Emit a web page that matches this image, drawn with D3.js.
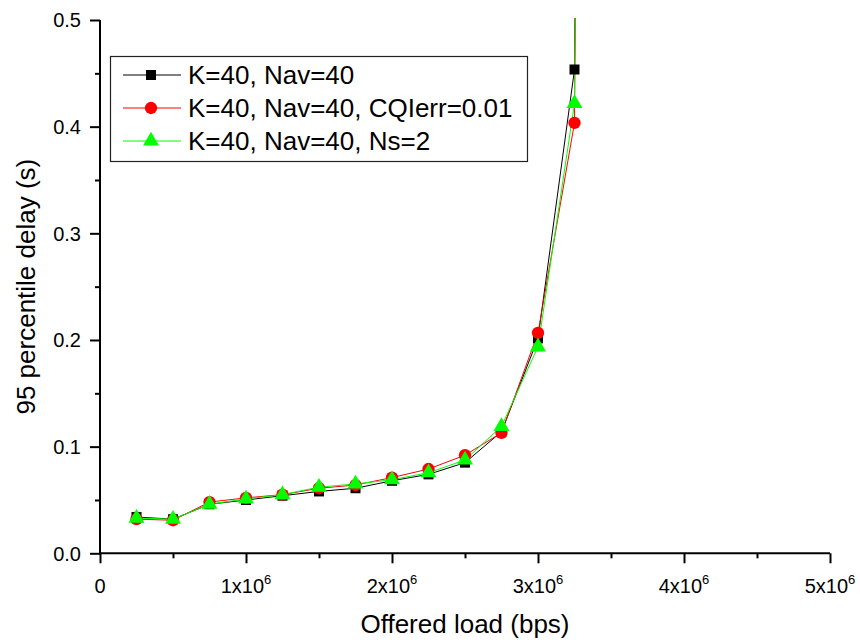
<!DOCTYPE html>
<html>
<head>
<meta charset="utf-8">
<script src="https://cdn.jsdelivr.net/npm/d3@7/dist/d3.min.js"></script>
<style>
  html, body { margin: 0; padding: 0; background: #fff; }
  svg { display: block; font-family: "Liberation Sans", Arial, sans-serif; }
</style>
</head>
<body>
<svg id="chart" width="860" height="643"></svg>
<script>
// ---- data ----
const loads = [250000, 500000, 750000, 1000000, 1250000, 1500000, 1750000, 2000000, 2250000, 2500000, 2750000, 3000000, 3250000, 3500000];
const seriesNames = ["K=40, Nav=40", "K=40, Nav=40, CQIerr=0.01", "K=40, Nav=40, Ns=2"];
const delayBase  = [0.034, 0.032, 0.046, 0.050, 0.054, 0.058, 0.061, 0.068, 0.074, 0.085, 0.114, 0.2015, 0.4536, 5.0];
const delayCQI   = [0.032, 0.031, 0.048, 0.052, 0.055, 0.061, 0.064, 0.071, 0.079, 0.092, 0.113, 0.2067, 0.4036, 5.0];
const delayNs2   = [0.033, 0.032, 0.046, 0.051, 0.055, 0.062, 0.065, 0.069, 0.0755, 0.0875, 0.119, 0.1936, 0.4217, 5.0];
const seriesColors = ["#000000", "#ff0000", "#00ff00"];
const seriesSymbols = [d3.symbolSquare, d3.symbolCircle, d3.symbolTriangle];
const xTickValues = [0, 1000000, 2000000, 3000000, 4000000, 5000000];
const xTickLabels = ["0", "1x10|6", "2x10|6", "3x10|6", "4x10|6", "5x10|6"];
const yTickValues = [0.0, 0.1, 0.2, 0.3, 0.4, 0.5];
const xTitle = "Offered load (bps)";
const yTitle = "95 percentile delay (s)";

// ---- layout ----
const svg = d3.select("#chart");
const pLeft = 100, pRight = 830, pTop = 20, pBottom = 553.3;
const x = d3.scaleLinear().domain([0, 5000000]).range([pLeft, pRight]);
const y = d3.scaleLinear().domain([0, 0.5]).range([pBottom, pTop]);

svg.append("defs").append("clipPath").attr("id", "plotclip")
  .append("rect").attr("x", pLeft).attr("y", pTop - 2).attr("width", pRight - pLeft).attr("height", pBottom - pTop + 2);

// ---- axes ----
const xAxisG = svg.append("g").attr("transform", `translate(0,${pBottom})`);
xAxisG.call(d3.axisBottom(x).tickValues(d3.range(0, 5000001, 500000)).tickSize(5).tickFormat(""));
xAxisG.call(g => g.selectAll(".tick line").filter(d => d % 1000000 === 0).attr("y2", 10));
xAxisG.select(".domain").attr("d", `M${pLeft},0H${pRight}`);
xAxisG.selectAll("path, line").attr("stroke", "#000").attr("stroke-width", 2);

const yAxisG = svg.append("g").attr("transform", `translate(${pLeft},0)`);
yAxisG.call(d3.axisLeft(y).tickValues(d3.range(0, 11).map(i => i * 0.05)).tickSize(5).tickFormat(""));
yAxisG.call(g => g.selectAll(".tick line").filter((d, i) => i % 2 === 0).attr("x2", -10));
yAxisG.select(".domain").attr("d", `M0,${pBottom + 1}V${pTop}`);
yAxisG.selectAll("path, line").attr("stroke", "#000").attr("stroke-width", 2);

// y tick labels
svg.append("g").selectAll("text").data(yTickValues).join("text")
  .attr("x", 81).attr("y", d => y(d)).attr("dy", "0.36em")
  .attr("text-anchor", "end").attr("font-size", 20).attr("fill", "#000")
  .text(d => d3.format(".1f")(d));

// x tick labels with superscripts
const xl = svg.append("g").selectAll("text").data(xTickValues).join("text")
  .attr("x", (d) => x(d)).attr("y", 593)
  .attr("text-anchor", "middle").attr("font-size", 20).attr("fill", "#000");
xl.each(function(d, i) {
  const parts = xTickLabels[i].split("|");
  const t = d3.select(this);
  t.append("tspan").text(parts[0]);
  if (parts[1]) t.append("tspan").attr("dy", -9).attr("font-size", 13).text(parts[1]);
});

// axis titles
svg.append("text").attr("x", (pLeft + pRight) / 2).attr("y", 633)
  .attr("text-anchor", "middle").attr("font-size", 26).attr("fill", "#000").text(xTitle);
svg.append("text").attr("transform", `translate(35,${(pTop + pBottom) / 2}) rotate(-90)`)
  .attr("text-anchor", "middle").attr("font-size", 26).attr("fill", "#000").text(yTitle);

// ---- series ----
const allSeries = [delayBase, delayCQI, delayNs2];
const line = d3.line().x((d, i) => x(loads[i])).y(d => y(d));
const plot = svg.append("g").attr("clip-path", "url(#plotclip)");
const symSizes = [100, 120, 110];

allSeries.forEach((vals, s) => {
  plot.append("path").datum(vals).attr("d", line)
    .attr("fill", "none").attr("stroke", seriesColors[s]).attr("stroke-width", 1);
});
allSeries.forEach((vals, s) => {
  plot.append("g").selectAll("path").data(vals).join("path")
    .attr("transform", (d, i) => `translate(${x(loads[i])},${y(d)})`)
    .attr("d", d3.symbol().type(seriesSymbols[s]).size(symSizes[s]))
    .attr("fill", seriesColors[s]);
});

// ---- legend ----
const lg = svg.append("g");
lg.append("rect").attr("x", 110.5).attr("y", 56.5).attr("width", 417).attr("height", 105)
  .attr("fill", "#fff").attr("stroke", "#222").attr("stroke-width", 1.2);
const rowY = [75, 108, 141];
seriesNames.forEach((name, s) => {
  const ry = rowY[s];
  lg.append("line").attr("x1", 123).attr("x2", 181).attr("y1", ry).attr("y2", ry)
    .attr("stroke", seriesColors[s]).attr("stroke-width", 1);
  lg.append("path").attr("transform", `translate(151,${ry})`)
    .attr("d", d3.symbol().type(seriesSymbols[s]).size(symSizes[s]))
    .attr("fill", seriesColors[s]);
  lg.append("text").attr("x", 188).attr("y", ry).attr("dy", "0.36em")
    .attr("font-size", 26).attr("fill", "#000").text(name);
});
</script>
</body>
</html>
